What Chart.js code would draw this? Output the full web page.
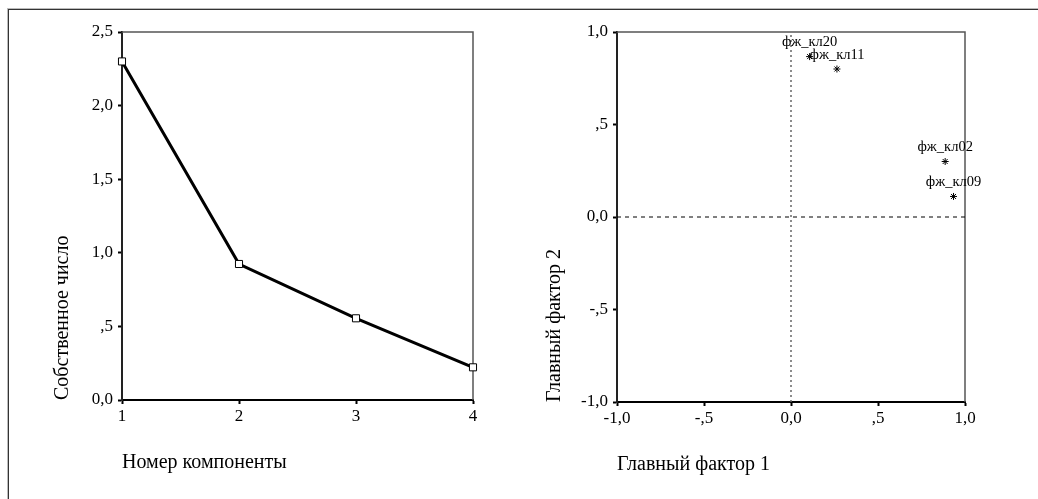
<!DOCTYPE html>
<html>
<head>
<meta charset="utf-8">
<script src="https://cdn.jsdelivr.net/npm/chart.js@4.4.1/dist/chart.umd.min.js"></script>
<style>
  html, body { margin: 0; padding: 0; background: #fff; }
  #wrap { position: relative; width: 1038px; height: 499px; overflow: hidden; background: #fff; }
  #frame { position: absolute; left: 8px; top: 9px; right: -10px; bottom: -10px; border-left: 1px solid #333; border-top: 1px solid #333; box-shadow: -1px -1px 0 #bbb; }
  #c1 { position: absolute; left: 0; top: 0; }
  #c2 { position: absolute; left: 520px; top: 0; }
</style>
</head>
<body>
<div id="wrap">
  <div id="frame"></div>
  <canvas id="c1" width="520" height="499"></canvas>
  <canvas id="c2" width="518" height="499"></canvas>
</div>
<script>
// ---- Scree plot data ----
const components = ['1', '2', '3', '4'];
const eigenvalues = [2.30, 0.924, 0.555, 0.222];
const screeYTickLabels = ['0,0', ',5', '1,0', '1,5', '2,0', '2,5'];

// ---- Component plot data ----
const varNames = ['фж_кл20', 'фж_кл11', 'фж_кл02', 'фж_кл09'];
const factor1 = [0.107, 0.264, 0.886, 0.934];
const factor2 = [0.867, 0.800, 0.300, 0.111];
const factorTickLabels = ['-1,0', '-,5', '0,0', ',5', '1,0'];
const refHX = [-1, 1], refHY = [0, 0];
const refVX = [0, 0], refVY = [-1, 1];

const SERIF = "'Liberation Serif', 'Times New Roman', serif";
const tickFont = { family: SERIF, size: 17 };
const titleFont = { family: SERIF, size: 20 };

const framePlugin = {
  id: 'frame',
  beforeDatasetsDraw(chart) {
    const { ctx, chartArea: a } = chart;
    ctx.save();
    ctx.strokeStyle = '#555';
    ctx.lineWidth = 1.5;
    ctx.beginPath();
    ctx.moveTo(a.left, a.top);
    ctx.lineTo(a.right, a.top);
    ctx.lineTo(a.right, a.bottom);
    ctx.stroke();
    ctx.restore();
  }
};

function axisGrid() {
  return { drawOnChartArea: false, drawTicks: true, tickLength: 4, tickWidth: 2, tickColor: '#000' };
}

// ---- Left chart: scree plot ----
new Chart(document.getElementById('c1'), {
  type: 'line',
  data: {
    labels: components,
    datasets: [{
      data: eigenvalues,
      borderColor: '#000',
      borderWidth: 3,
      pointStyle: 'rect',
      pointRadius: 5,
      pointBackgroundColor: '#fff',
      pointBorderColor: '#000',
      pointBorderWidth: 1,
      tension: 0
    }]
  },
  options: {
    responsive: false,
    animation: false,
    devicePixelRatio: 1,
    layout: { padding: { left: 0, top: 32, right: 47, bottom: 0 } },
    plugins: { legend: { display: false }, tooltip: { enabled: false } },
    scales: {
      x: {
        type: 'category',
        offset: false,
        grid: axisGrid(),
        border: { display: true, color: '#000', width: 2 },
        ticks: { font: tickFont, color: '#000', padding: 2, maxRotation: 0, autoSkip: false },
        title: { display: true, text: 'Номер компоненты', align: 'start', font: titleFont, color: '#000', padding: { top: 0, bottom: 24 } },
        afterFit(s) { s.height = 99; }
      },
      y: {
        min: 0, max: 2.5,
        grid: axisGrid(),
        border: { display: true, color: '#222', width: 2 },
        ticks: { stepSize: 0.5, font: tickFont, color: '#000', padding: 5,
                 callback: (v, i) => screeYTickLabels[i] },
        title: { display: true, text: 'Собственное число', align: 'start', font: titleFont, color: '#000', padding: { top: 51, bottom: 0 } },
        afterFit(s) { s.width = 122; }
      }
    }
  },
  plugins: [framePlugin]
});

// ---- Right chart: component plot ----
const labelPlugin = {
  id: 'pointLabels',
  afterDatasetsDraw(chart) {
    const meta = chart.getDatasetMeta(2);
    const ctx = chart.ctx;
    ctx.save();
    ctx.font = "14.5px " + SERIF;
    ctx.fillStyle = '#000';
    ctx.textAlign = 'center';
    ctx.textBaseline = 'middle';
    meta.data.forEach((pt, i) => {
      ctx.fillText(varNames[i], pt.x, pt.y - 14);
    });
    ctx.restore();
  }
};

new Chart(document.getElementById('c2'), {
  type: 'scatter',
  data: {
    datasets: [
      {
        data: refHX.map((x, i) => ({ x, y: refHY[i] })),
        showLine: true, borderColor: '#000', borderWidth: 1, borderDash: [4, 4], pointRadius: 0
      },
      {
        data: refVX.map((x, i) => ({ x, y: refVY[i] })),
        showLine: true, borderColor: '#666', borderWidth: 1.5, borderDash: [2, 3], pointRadius: 0
      },
      {
        data: factor1.map((x, i) => ({ x, y: factor2[i] })),
        pointStyle: 'star', pointRadius: 3.5, borderColor: '#000', pointBorderWidth: 1, backgroundColor: '#000'
      }
    ]
  },
  options: {
    responsive: false,
    animation: false,
    devicePixelRatio: 1,
    layout: { padding: { left: 0, top: 32, right: 73, bottom: 0 } },
    plugins: { legend: { display: false }, tooltip: { enabled: false } },
    scales: {
      x: {
        type: 'linear', min: -1, max: 1,
        grid: axisGrid(),
        border: { display: true, color: '#000', width: 2 },
        ticks: { stepSize: 0.5, font: tickFont, color: '#000', padding: 2, maxRotation: 0,
                 callback: (v, i) => factorTickLabels[i] },
        title: { display: true, text: 'Главный фактор 1', align: 'start', font: titleFont, color: '#000', padding: { top: 0, bottom: 22 } },
        afterFit(s) { s.height = 97; }
      },
      y: {
        type: 'linear', min: -1, max: 1,
        grid: axisGrid(),
        border: { display: true, color: '#222', width: 2 },
        ticks: { stepSize: 0.5, font: tickFont, color: '#000', padding: 5,
                 callback: (v, i) => factorTickLabels[i] },
        title: { display: true, text: 'Главный фактор 2', align: 'start', font: titleFont, color: '#000', padding: { top: 23, bottom: 0 } },
        afterFit(s) { s.width = 97; }
      }
    }
  },
  plugins: [framePlugin, labelPlugin]
});
</script>
</body>
</html>
